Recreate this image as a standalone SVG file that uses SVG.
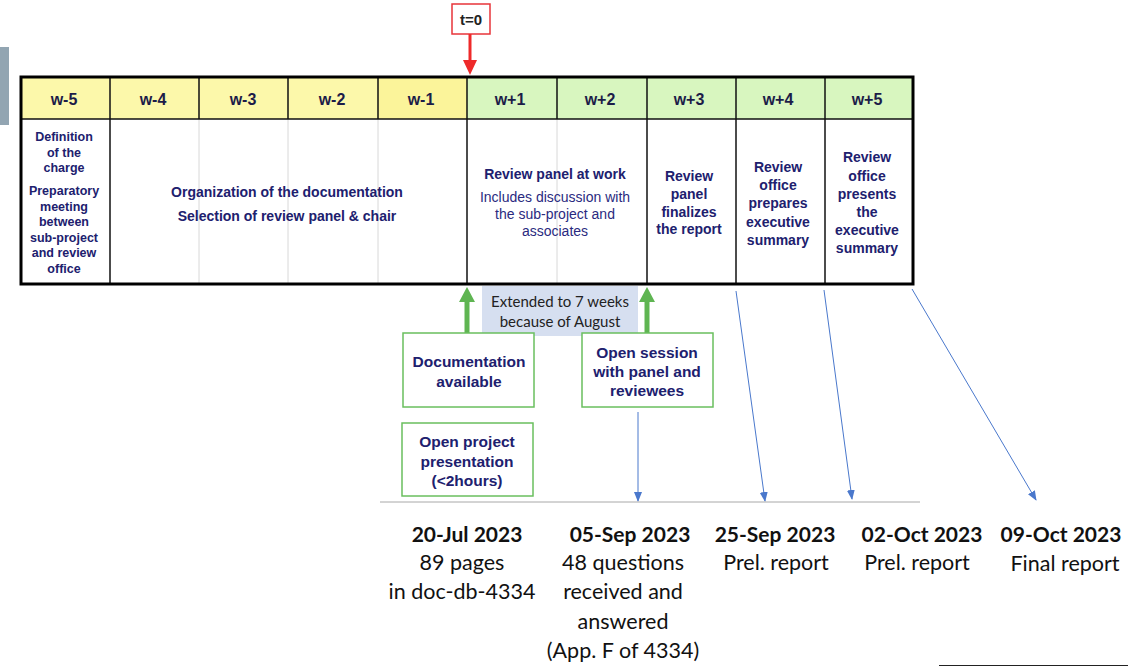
<svg xmlns="http://www.w3.org/2000/svg" width="1128" height="667" viewBox="0 0 1128 667">
<defs>
<style>
.hd{font-family:"Liberation Sans",Arial,sans-serif;font-weight:bold;font-size:16px;fill:#1c1c48;text-anchor:middle}
.b{font-family:"Liberation Sans",Arial,sans-serif;font-weight:bold;font-size:14px;fill:#20206e;text-anchor:middle}
.b1{font-family:"Liberation Sans",Arial,sans-serif;font-weight:bold;font-size:12.5px;fill:#20206e;text-anchor:middle}
.bg{font-family:"Liberation Sans",Arial,sans-serif;font-weight:bold;font-size:15.5px;fill:#20206e;text-anchor:middle}
.n{font-family:"Liberation Sans",Arial,sans-serif;font-size:14px;fill:#2a2a80;text-anchor:middle}
.c{font-family:Lato,"Open Sans",sans-serif;font-size:21.5px;fill:#111;text-anchor:middle}
.cb{font-family:Lato,"Open Sans",sans-serif;font-weight:bold;font-size:21px;fill:#111;text-anchor:middle}
.cs{font-family:Lato,"Open Sans",sans-serif;font-size:15px;fill:#222;text-anchor:middle}
.gbox{fill:#fff;stroke:#6abf5e;stroke-width:1.5}
.faint{stroke:#d8d8d8;stroke-width:1}
.blk{stroke:#111;stroke-width:1.5}
.blue{stroke:#4a78cc;stroke-width:1;fill:none}
</style>
<marker id="ab" markerWidth="10" markerHeight="10" refX="9" refY="5" orient="auto" markerUnits="userSpaceOnUse"><path d="M0,1 L10,5 L0,9 z" fill="#4a78cc"/></marker>
</defs>
<rect x="0" y="0" width="1128" height="667" fill="#fff"/>
<rect x="0" y="47" width="9" height="78" fill="#92a5b2"/>

<g id="t0">
<rect x="452" y="4" width="38" height="30" fill="#fff" stroke="#e8343a" stroke-width="1.5"/>
<text x="471" y="25" font-family="Liberation Sans,Arial,sans-serif" font-weight="bold" font-size="15" fill="#222" text-anchor="middle">t=0</text>
</g>

<g id="table">
<rect x="20" y="77" width="447" height="42" fill="#fcf8aa"/>
<rect x="378" y="77" width="89" height="42" fill="#fbf49a"/>
<rect x="467" y="77" width="447" height="42" fill="#d8f6bf"/>
<rect x="20" y="119" width="894" height="166" fill="#fff"/>
<g class="faint">
<line x1="199" y1="119" x2="199" y2="285"/>
<line x1="288" y1="119" x2="288" y2="285"/>
<line x1="378" y1="119" x2="378" y2="285"/>
<line x1="557" y1="119" x2="557" y2="285"/>
</g>
<g class="blk">
<line x1="110" y1="77" x2="110" y2="285"/>
<line x1="199" y1="77" x2="199" y2="119"/>
<line x1="288" y1="77" x2="288" y2="119"/>
<line x1="378" y1="77" x2="378" y2="119"/>
<line x1="467" y1="77" x2="467" y2="285"/>
<line x1="557" y1="77" x2="557" y2="119"/>
<line x1="647" y1="77" x2="647" y2="285"/>
<line x1="736" y1="77" x2="736" y2="285"/>
<line x1="825" y1="77" x2="825" y2="285"/>
<line x1="20" y1="119" x2="914" y2="119"/>
</g>
<rect x="21" y="77" width="892" height="207" fill="none" stroke="#000" stroke-width="3"/>
<text class="hd" x="64" y="105">w-5</text>
<text class="hd" x="153" y="105">w-4</text>
<text class="hd" x="243" y="105">w-3</text>
<text class="hd" x="332" y="105">w-2</text>
<text class="hd" x="421" y="105">w-1</text>
<text class="hd" x="510" y="105">w+1</text>
<text class="hd" x="600" y="105">w+2</text>
<text class="hd" x="689" y="105">w+3</text>
<text class="hd" x="778" y="105">w+4</text>
<text class="hd" x="867" y="105">w+5</text>
</g>

<g id="c1">
<text class="b1" x="64" y="141">Definition</text>
<text class="b1" x="64" y="157">of the</text>
<text class="b1" x="64" y="172">charge</text>
<text class="b1" x="64" y="195">Preparatory</text>
<text class="b1" x="64" y="211">meeting</text>
<text class="b1" x="64" y="226">between</text>
<text class="b1" x="64" y="242">sub-project</text>
<text class="b1" x="64" y="257">and review</text>
<text class="b1" x="64" y="273">office</text>
</g>
<g id="c2">
<text class="b" x="287" y="197">Organization of the documentation</text>
<text class="b" x="287" y="221">Selection of review panel &amp; chair</text>
</g>
<g id="c3">
<text class="b" x="555" y="179">Review panel at work</text>
<text class="n" x="555" y="202">Includes discussion with</text>
<text class="n" x="555" y="219">the sub-project and</text>
<text class="n" x="555" y="236">associates</text>
</g>
<g id="c4">
<text class="b" x="689" y="181">Review</text>
<text class="b" x="689" y="199">panel</text>
<text class="b" x="689" y="217">finalizes</text>
<text class="b" x="689" y="234">the report</text>
</g>
<g id="c5">
<text class="b" x="778" y="172">Review</text>
<text class="b" x="778" y="190">office</text>
<text class="b" x="778" y="208">prepares</text>
<text class="b" x="778" y="227">executive</text>
<text class="b" x="778" y="245">summary</text>
</g>
<g id="c6">
<text class="b" x="867" y="162">Review</text>
<text class="b" x="867" y="181">office</text>
<text class="b" x="867" y="199">presents</text>
<text class="b" x="867" y="217">the</text>
<text class="b" x="867" y="235">executive</text>
<text class="b" x="867" y="253">summary</text>
</g>

<g id="connectors">
<line x1="470" y1="34" x2="470" y2="62" stroke="#ee2a2a" stroke-width="3"/>
<path d="M463,60 L477,60 L470,75 z" fill="#ee2a2a"/>
<line x1="467" y1="333" x2="467" y2="300" stroke="#5fb552" stroke-width="5"/>
<path d="M459,302 L475,302 L467,287 z" fill="#5fb552"/>
<line x1="647" y1="333" x2="647" y2="300" stroke="#5fb552" stroke-width="5"/>
<path d="M639,302 L655,302 L647,287 z" fill="#5fb552"/>
<line class="blue" x1="638" y1="412" x2="638" y2="501" marker-end="url(#ab)"/>
<line class="blue" x1="736" y1="291" x2="765" y2="501" marker-end="url(#ab)"/>
<line class="blue" x1="824" y1="290" x2="852" y2="499" marker-end="url(#ab)"/>
<line class="blue" x1="912" y1="289" x2="1036" y2="500" marker-end="url(#ab)"/>
<line x1="380" y1="502" x2="920" y2="502" stroke="#a8a8a8" stroke-width="1"/>
<line x1="939" y1="665.5" x2="1128" y2="665.5" stroke="#222" stroke-width="1"/>
</g>

<g id="ext">
<rect x="482" y="286" width="156" height="50" fill="#d6dff0"/>
<text class="cs" x="560" y="307">Extended to 7 weeks</text>
<text class="cs" x="560" y="327">because of August</text>
</g>
<g id="docavail">
<rect class="gbox" x="403" y="333" width="131" height="74"/>
<text class="bg" x="469" y="367">Documentation</text>
<text class="bg" x="469" y="387">available</text>
</g>
<g id="opensession">
<rect class="gbox" x="582" y="333" width="131" height="74"/>
<text class="bg" x="647" y="358">Open session</text>
<text class="bg" x="647" y="377">with panel and</text>
<text class="bg" x="647" y="396">reviewees</text>
</g>
<g id="openproj">
<rect class="gbox" x="402" y="423" width="131" height="73"/>
<text class="bg" x="467" y="447">Open project</text>
<text class="bg" x="467" y="467">presentation</text>
<text class="bg" x="467" y="486">(&lt;2hours)</text>
</g>

<g id="d1">
<text class="cb" x="467" y="542">20-Jul 2023</text>
<text class="c" x="462" y="570">89 pages</text>
<text class="c" x="462" y="599">in doc-db-4334</text>
</g>
<g id="d2">
<text class="cb" x="630" y="542">05-Sep 2023</text>
<text class="c" x="623" y="570">48 questions</text>
<text class="c" x="623" y="599">received and</text>
<text class="c" x="623" y="629">answered</text>
<text class="c" x="623" y="658">(App. F of 4334)</text>
</g>
<g id="d3">
<text class="cb" x="775" y="542">25-Sep 2023</text>
<text class="c" x="776" y="570">Prel. report</text>
</g>
<g id="d4">
<text class="cb" x="922" y="542">02-Oct 2023</text>
<text class="c" x="917" y="570">Prel. report</text>
</g>
<g id="d5">
<text class="cb" x="1061" y="542">09-Oct 2023</text>
<text class="c" x="1065" y="571">Final report</text>
</g>
</svg>
